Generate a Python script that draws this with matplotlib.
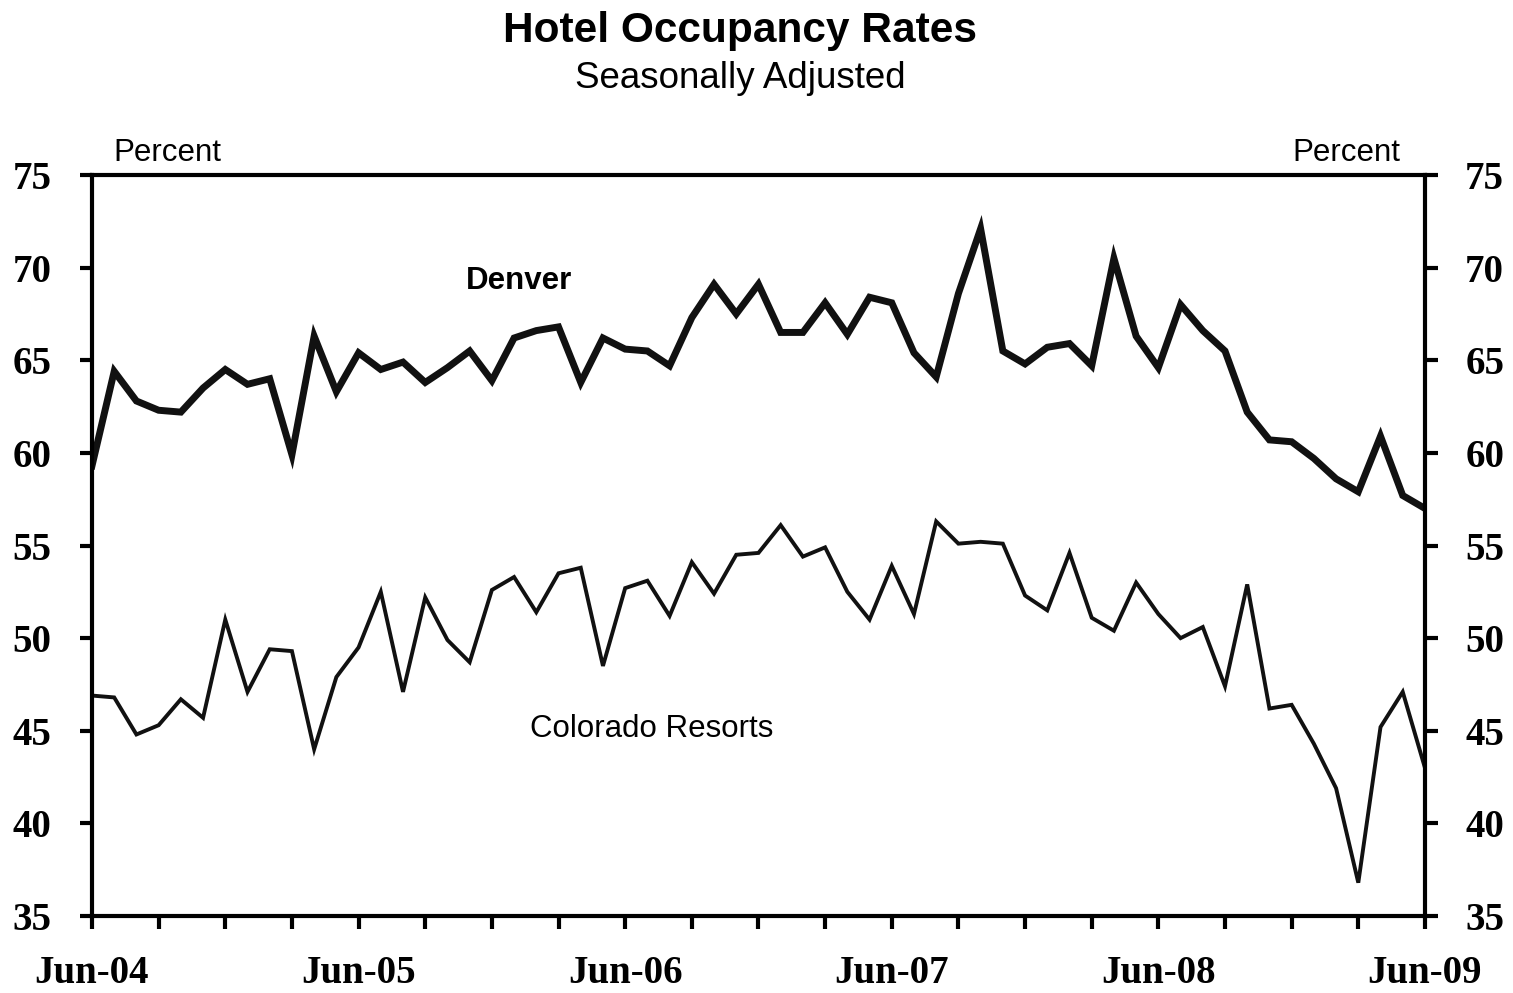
import numpy as np
import matplotlib
matplotlib.use("Agg")
import matplotlib.pyplot as plt

#
# Data (monthly, Jun-04 .. Jun-09)
#
denver = [59.3, 64.4, 62.8, 62.3, 62.2, 63.5, 64.5, 63.7, 64.0, 59.9,
          66.3, 63.3, 65.4, 64.5, 64.9, 63.8, 64.6, 65.5, 63.9, 66.2,
          66.6, 66.8, 63.8, 66.2, 65.6, 65.5, 64.7, 67.3, 69.1, 67.5,
          69.1, 66.5, 66.5, 68.1, 66.4, 68.4, 68.1, 65.4, 64.1, 68.6,
          72.1, 65.5, 64.8, 65.7, 65.9, 64.7, 70.5, 66.3, 64.6, 68.0,
          66.6, 65.5, 62.2, 60.7, 60.6, 59.7, 58.6, 57.9, 60.9, 57.7,
          57.0]

resorts = [46.9, 46.8, 44.8, 45.3, 46.7, 45.7, 51.0, 47.1, 49.4, 49.3,
           44.0, 47.9, 49.5, 52.5, 47.1, 52.2, 49.9, 48.7, 52.6, 53.3,
           51.4, 53.5, 53.8, 48.5, 52.7, 53.1, 51.2, 54.1, 52.4, 54.5,
           54.6, 56.1, 54.4, 54.9, 52.5, 51.0, 53.9, 51.3, 56.3, 55.1,
           55.2, 55.1, 52.3, 51.5, 54.6, 51.1, 50.4, 53.0, 51.3, 50.0,
           50.6, 47.4, 52.9, 46.2, 46.4, 44.3, 41.9, 36.8, 45.2, 47.1,
           43.0]

year_labels = ["Jun-04", "Jun-05", "Jun-06", "Jun-07", "Jun-08", "Jun-09"]
y_ticks = [35, 40, 45, 50, 55, 60, 65, 70, 75]

months = np.arange(len(denver))

# tick labels: quarterly ticks, a label once a year
tick_pos = months[::3]
tick_lab = []
for m in tick_pos:
    if m % 12 == 0:
        tick_lab.append(year_labels[m // 12])
    else:
        tick_lab.append("")

sans = "Liberation Sans"
serif = "Liberation Serif"

fig = plt.figure(figsize=(15.13, 9.93), dpi=100)
ax = fig.add_axes([0.0608, 0.0775, 0.8810, 0.7463])

ax.plot(months, denver, color="#111111", lw=5.0, solid_joinstyle="miter")
ax.plot(months, resorts, color="#111111", lw=2.8, solid_joinstyle="miter")

ax.set_xlim(0, len(denver) - 1)
ax.set_ylim(35, 75)

# spines
for side in ["left", "right", "top", "bottom"]:
    ax.spines[side].set_linewidth(3.0)
    ax.spines[side].set_color("black")

ax.set_xticks(tick_pos)
ax.set_xticklabels(tick_lab, fontfamily=serif, fontweight="bold", fontsize=28)
ax.set_yticks(y_ticks)
ax.set_yticklabels([str(v) for v in y_ticks], fontfamily=serif,
                   fontweight="bold", fontsize=28)
ax.tick_params(axis="x", direction="out", length=9, width=3, pad=19)
ax.tick_params(axis="y", direction="out", length=9, width=3, pad=20,
               left=True, right=True, labelleft=True, labelright=True)

# labels
ax.text(19.2, 69.3, "Denver", fontfamily=sans, fontweight="bold",
        fontsize=22.5, ha="center", va="center")
ax.text(25.2, 45.1, "Colorado Resorts", fontfamily=sans, fontsize=22.5,
        ha="center", va="center")

fig.text(113 / 1513, 1 - 153 / 993, "Percent", fontfamily=sans, fontsize=22.5,
         ha="left", va="center")
fig.text(1400 / 1513, 1 - 153 / 993, "Percent", fontfamily=sans, fontsize=22.5,
         ha="right", va="center")

# titles
fig.text(740 / 1513, 1 - 31 / 993, "Hotel Occupancy Rates", fontfamily=sans,
         fontweight="bold", fontsize=30.5, ha="center", va="center")
fig.text(740 / 1513, 1 - 79 / 993, "Seasonally Adjusted", fontfamily=sans,
         fontsize=26.5, ha="center", va="center")

fig.savefig("out.png", dpi=100)
